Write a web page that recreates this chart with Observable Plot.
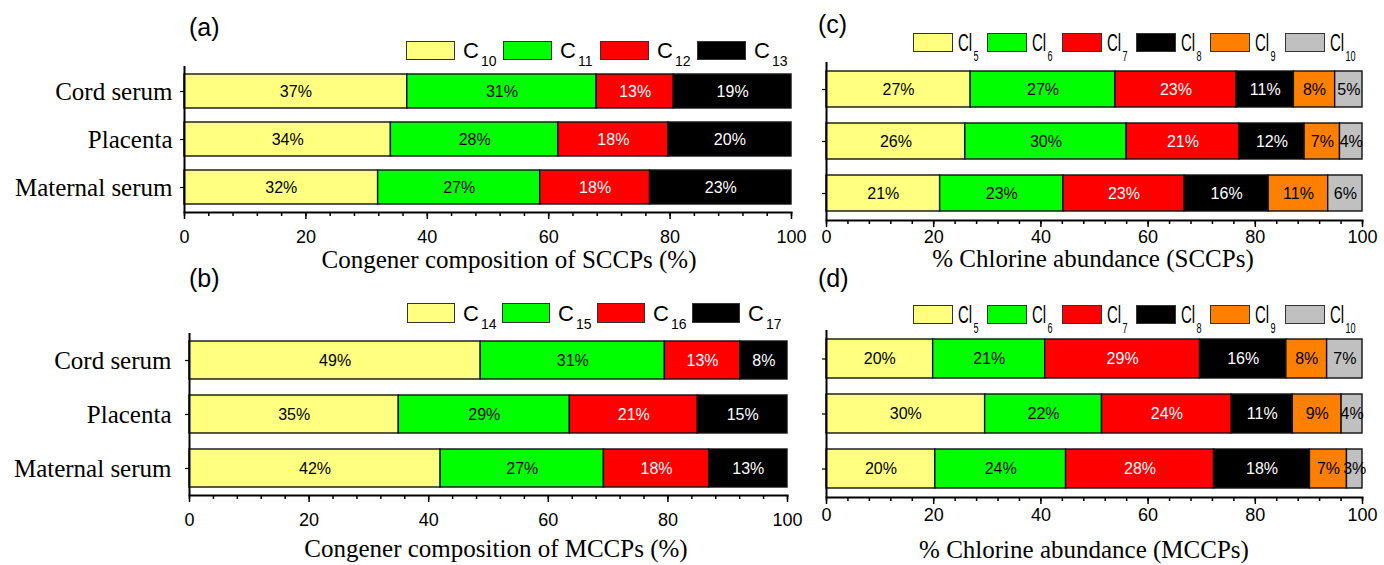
<!DOCTYPE html>
<html>
<head>
<meta charset="utf-8">
<script src="https://cdn.jsdelivr.net/npm/d3@7"></script>
<script src="https://cdn.jsdelivr.net/npm/@observablehq/plot@0.6"></script>
<style>
  body { margin: 0; background: #fff; }
  #root { position: relative; width: 1384px; height: 565px; overflow: hidden; background: #fff; }
  .panel { position: absolute; }
  .plab { position: absolute; font-family: "Liberation Sans", Arial, sans-serif; font-size: 25px; line-height: 25px; color: #000; white-space: nowrap; }
  .title { position: absolute; font-family: "Liberation Serif", "Times New Roman", serif; font-size: 25px; line-height: 25px; color: #000; white-space: nowrap; transform: translateX(-50%); }
  .sw { position: absolute; border: 1.5px solid #333; box-sizing: border-box; }
  .lg { position: absolute; font-family: "Liberation Sans", Arial, sans-serif; color: #000; white-space: nowrap; }
</style>
</head>
<body>
<div id="root"></div>
<script>
// ---------- data ----------
const samples = ["Cord serum", "Placenta", "Maternal serum"];

// (a) SCCP carbon chain congeners
const sccpChains = ["C10", "C11", "C12", "C13"];
const sccpChainColors = ["#FFFF80", "#00FF00", "#FF0000", "#000000"];
const sccpCord = [36.7, 31.2, 12.7, 19.4];
const sccpPlacenta = [34.0, 27.6, 18.1, 20.3];
const sccpMaternal = [31.9, 26.7, 18.1, 23.3];

// (b) MCCP carbon chain congeners
const mccpChains = ["C14", "C15", "C16", "C17"];
const mccpChainColors = ["#FFFF80", "#00FF00", "#FF0000", "#000000"];
const mccpCord = [48.7, 30.8, 12.6, 7.9];
const mccpPlacenta = [35.0, 28.6, 21.4, 15.0];
const mccpMaternal = [42.0, 27.3, 17.6, 13.1];

// (c),(d) chlorine congeners
const chlorineGroups = ["Cl5", "Cl6", "Cl7", "Cl8", "Cl9", "Cl10"];
const chlorineColors = ["#FFFF80", "#00FF00", "#FF0000", "#000000", "#FF8000", "#C0C0C0"];
const sccpClCord = [26.9, 27.0, 22.6, 10.7, 7.7, 5.1];
const sccpClPlacenta = [25.9, 30.1, 21.0, 12.2, 6.6, 4.2];
const sccpClMaternal = [21.2, 23.0, 22.6, 15.7, 11.1, 6.4];
const mccpClCord = [19.9, 20.9, 28.9, 16.1, 7.6, 6.6];
const mccpClPlacenta = [29.6, 21.8, 24.2, 11.4, 9.1, 3.9];
const mccpClMaternal = [20.3, 24.4, 27.6, 17.9, 6.9, 2.9];

// labels
const panelLabels = ["(a)", "(b)", "(c)", "(d)"];
const axisTitles = [
  "Congener composition of SCCPs (%)",
  "Congener composition of MCCPs (%)",
  "% Chlorine abundance (SCCPs)",
  "% Chlorine abundance (MCCPs)"
];
const whiteTextGroups = ["C12", "C13", "C16", "C17", "Cl7", "Cl8"];

// ---------- helpers ----------
function table(comps, series) {
  const rows = [];
  samples.forEach((s, i) => {
    series[i].forEach((v, j) => rows.push({ sample: s, comp: comps[j], value: v }));
  });
  return rows;
}

const root = document.getElementById("root");
const white = new Set(whiteTextGroups);
const SANS = "Liberation Sans, Arial, sans-serif";
const SERIF = "Liberation Serif, Times New Roman, serif";

function panel(cfg) {
  const data = table(cfg.comps, cfg.series);
  const fmt = d => Math.round(d.value) + "%";
  const chart = Plot.plot({
    width: cfg.width, height: cfg.height,
    marginTop: cfg.mt, marginBottom: cfg.mb, marginLeft: cfg.ml, marginRight: cfg.mr,
    style: { background: "transparent", overflow: "visible", color: "#000", fontFamily: SANS },
    x: { domain: [0, 100] },
    y: { domain: samples, paddingInner: 0.3, paddingOuter: 0.15 },
    color: { domain: cfg.comps, range: cfg.colors },
    marks: [
      Plot.barX(data, Plot.stackX({ x: "value", y: "sample", fill: "comp", stroke: "#111", strokeWidth: 1.4 })),
      Plot.text(data, Plot.stackX({ x: "value", y: "sample", text: d => white.has(d.comp) ? "" : fmt(d), fill: "#000", fontSize: 16, fontFamily: SANS })),
      Plot.text(data, Plot.stackX({ x: "value", y: "sample", text: d => white.has(d.comp) ? fmt(d) : "", fill: "#fff", fontSize: 16, fontFamily: SANS })),
      Plot.ruleX([0], { stroke: "#000", strokeWidth: 2 }),
      Plot.frame({ anchor: "bottom", stroke: "#000", strokeWidth: 2 }),
      Plot.axisX({ ticks: d3.range(0, 101, 4), tickSize: 4, tickFormat: () => "", label: null, strokeWidth: 1.5 }),
      Plot.axisX({ ticks: d3.range(0, 101, 20), tickSize: 7, tickPadding: cfg.xpad, fontSize: 18, fontFamily: SANS, label: null, strokeWidth: 1.5 }),
      cfg.showY
        ? Plot.axisY({ tickSize: 4, tickPadding: cfg.ypad, fontSize: 25, fontFamily: SERIF, label: null, strokeWidth: 1.2 })
        : Plot.axisY({ tickSize: 4, tickFormat: () => "", label: null, strokeWidth: 1.2 })
    ]
  });
  chart.classList.add("panel");
  chart.style.left = cfg.left + "px";
  chart.style.top = cfg.top + "px";
  root.appendChild(chart);

  // panel label
  const pl = document.createElement("div");
  pl.className = "plab";
  pl.textContent = cfg.label;
  pl.style.left = cfg.labelX + "px";
  pl.style.top = cfg.labelY + "px";
  root.appendChild(pl);

  // axis title
  const t = document.createElement("div");
  t.className = "title";
  t.textContent = cfg.title;
  t.style.left = cfg.titleX + "px";
  t.style.top = cfg.titleY + "px";
  root.appendChild(t);

  // legend
  cfg.comps.forEach((c, i) => {
    const x = cfg.lgX + i * cfg.lgStep;
    const sw = document.createElement("div");
    sw.className = "sw";
    sw.style.left = x + "px";
    sw.style.top = cfg.lgY + "px";
    sw.style.width = cfg.swW + "px";
    sw.style.height = cfg.swH + "px";
    sw.style.background = cfg.colors[i];
    root.appendChild(sw);
    const m = c.match(/^([A-Za-z]+)(\d+)$/);
    const lg = document.createElement("div");
    lg.className = "lg";
    lg.style.left = (x + cfg.lblOff) + "px";
    lg.style.top = cfg.lblTop + "px";
    lg.style.fontSize = cfg.lblSize + "px";
    lg.style.lineHeight = cfg.lblSize + "px";
    if (cfg.squeeze) {
      lg.style.transform = "scaleX(" + cfg.squeeze + ")";
      lg.style.transformOrigin = "left top";
    }
    const base = document.createElement("span");
    base.textContent = m[1];
    const sub = document.createElement("span");
    sub.textContent = m[2];
    sub.style.fontSize = cfg.subSize + "px";
    sub.style.verticalAlign = (-cfg.subDrop) + "px";
    sub.style.marginLeft = "2px";
    lg.appendChild(base);
    lg.appendChild(sub);
    root.appendChild(lg);
  });
}

// (a)
panel({
  comps: sccpChains, colors: sccpChainColors, series: [sccpCord, sccpPlacenta, sccpMaternal],
  left: 0, top: 0, width: 811, height: 280, mt: 66, mb: 68, ml: 184, mr: 20,
  xpad: 11, showY: true, ypad: 8,
  label: panelLabels[0], labelX: 189, labelY: 15,
  title: axisTitles[0], titleX: 509, titleY: 247,
  lgX: 406, lgStep: 97, lgY: 41, swW: 49, swH: 19, lblOff: 57, lblTop: 40, lblSize: 22, subSize: 14, subDrop: 8
});
// (b)
panel({
  comps: mccpChains, colors: mccpChainColors, series: [mccpCord, mccpPlacenta, mccpMaternal],
  left: 0, top: 280, width: 811, height: 285, mt: 53, mb: 70, ml: 189, mr: 24,
  xpad: 11, showY: true, ypad: 14,
  label: panelLabels[1], labelX: 189, labelY: 266,
  title: axisTitles[1], titleX: 496, titleY: 536,
  lgX: 407, lgStep: 95, lgY: 303, swW: 48, swH: 20, lblOff: 56, lblTop: 303, lblSize: 22, subSize: 14, subDrop: 8
});
// (c)
panel({
  comps: chlorineGroups, colors: chlorineColors, series: [sccpClCord, sccpClPlacenta, sccpClMaternal],
  left: 800, top: 0, width: 584, height: 280, mt: 62, mb: 60, ml: 26, mr: 22,
  xpad: 3, showY: false,
  label: panelLabels[2], labelX: 818, labelY: 12,
  title: axisTitles[2], titleX: 1093, titleY: 246,
  lgX: 913, lgStep: 74.3, lgY: 33, swW: 40, swH: 19, lblOff: 45, lblTop: 32, lblSize: 23, subSize: 14, subDrop: 10, squeeze: 0.65
});
// (d)
panel({
  comps: chlorineGroups, colors: chlorineColors, series: [mccpClCord, mccpClPlacenta, mccpClMaternal],
  left: 800, top: 280, width: 584, height: 285, mt: 50, mb: 68, ml: 26, mr: 22,
  xpad: 4, showY: false,
  label: panelLabels[3], labelX: 818, labelY: 266,
  title: axisTitles[3], titleX: 1084, titleY: 537,
  lgX: 913, lgStep: 74.3, lgY: 305, swW: 40, swH: 19, lblOff: 45, lblTop: 304, lblSize: 23, subSize: 14, subDrop: 10, squeeze: 0.65
});
</script>
</body>
</html>
